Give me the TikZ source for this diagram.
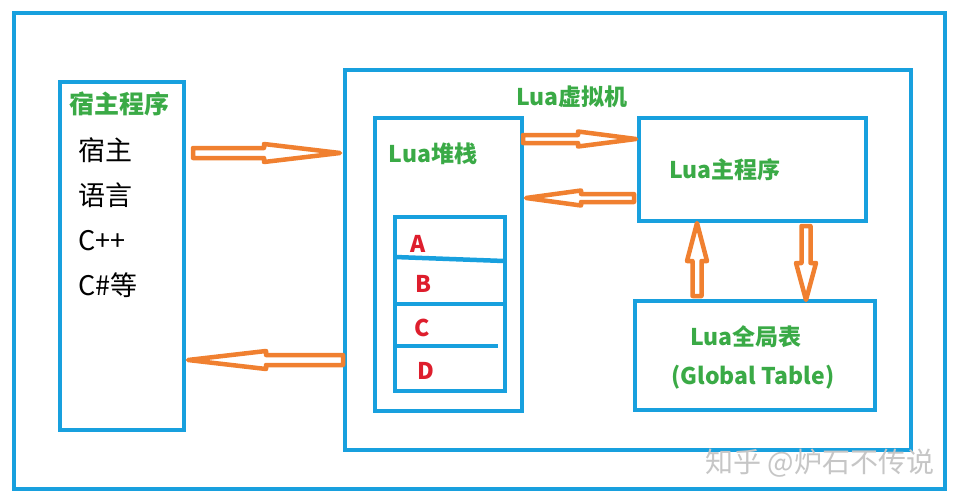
\documentclass[tikz,border=0pt]{standalone}
\usepackage{fontspec}
\usetikzlibrary{calc}
\newfontfamily\cjk{Noto Sans CJK SC}
\definecolor{frameblue}{RGB}{24,160,222}
\definecolor{arroworange}{RGB}{240,128,48}
\definecolor{lblgreen}{RGB}{58,170,70}
\definecolor{lblred}{RGB}{222,30,45}
% hollow block arrow: start, tip, head length, shaft half width, head half width
\newcommand{\hollowarrow}[5]{%
  \coordinate (hb) at ($(#2)!#3!(#1)$);
  \draw[blockarrow] ($(#1)!#4!90:(#2)$) -- ($(hb)!#4!90:(#2)$) -- ($(hb)!#5!90:(#2)$) -- (#2)
    -- ($(hb)!#5!-90:(#2)$) -- ($(hb)!#4!-90:(#2)$) -- ($(#1)!#4!-90:(#2)$) -- cycle;
}
\tikzset{
  box/.style={draw=frameblue, line width=4.5pt, rectangle, inner sep=0pt},
  blockarrow/.style={draw=arroworange, line width=4.5pt, line join=round, fill=white},
  title/.style={text=lblgreen, font=\cjk\bfseries\fontsize{23}{27}\selectfont},
  cell/.style={text=lblred, font=\cjk\bfseries\fontsize{23}{27}\selectfont},
}

\begin{document}
\begin{tikzpicture}[x=1pt, y=-1pt]
  \useasboundingbox (0,0) rectangle (963,503);
  \fill[white] (0,0) rectangle (963,503);

  % frames
  \node[box, minimum width=931pt, minimum height=476pt] (outer) at (479.5,251) {};
  \node[box, minimum width=124pt, minimum height=348pt] (host) at (122,256) {};
  \node[box, minimum width=566pt, minimum height=380pt] (vm) at (628,260) {};
  \node[box, minimum width=147pt, minimum height=293pt] (stack) at (448.5,264.5) {};
  \node[box, minimum width=110pt, minimum height=174pt] (cells) at (450,304) {};
  \node[box, minimum width=227pt, minimum height=103pt] (main) at (752.5,169.5) {};
  \node[box, minimum width=240pt, minimum height=109pt] (global) at (755,355.5) {};

  % stack slots
  \draw[frameblue, line width=4.5pt] (395,257) -- (504,261);
  \draw[frameblue, line width=4.5pt] (395,304) -- (505,304);
  \draw[frameblue, line width=4.5pt] (395,346) -- (498,346);

  % labels
  \node[title, font=\cjk\bfseries\fontsize{25}{29}\selectfont] (hosttitle) at (119,104) {宿主程序};
  \node[font=\cjk\fontsize{27}{45}\selectfont, align=left, anchor=west] (hostlang) at (75,218)
    {宿主\\语言\\C++\\C\#等};
  \node[title] (vmtitle) at (572,97) {Lua虚拟机};
  \node[title] (stacktitle) at (433,154) {Lua堆栈};
  \node[title] (maintitle) at (725,170) {Lua主程序};
  \node[title] (globaltitle) at (746,337) {Lua全局表};
  \node[title] (globalsub) at (753,377) {(Global Table)};
  \node[cell] (ca) at (418,244) {A};
  \node[cell] (cb) at (423,284) {B};
  \node[cell] (cc) at (422,328) {C};
  \node[cell] (cd) at (426,371) {D};

  % arrows
  \coordinate (hostout) at (193,153);
  \coordinate (vmin) at (340,153);
  \coordinate (vmout) at (343,360);
  \coordinate (hostin) at (188,360);
  \coordinate (stackout) at (523,139);
  \coordinate (mainin) at (636,139);
  \coordinate (mainout) at (634,198);
  \coordinate (stackin) at (526,198);
  \coordinate (globalout) at (697,296);
  \coordinate (mainbot) at (697,223);
  \coordinate (maindown) at (806,226);
  \coordinate (globalin) at (806,300);
  \hollowarrow{hostout}{vmin}{76pt}{5pt}{9pt}
  \hollowarrow{vmout}{hostin}{78pt}{5pt}{9pt}
  \hollowarrow{stackout}{mainin}{58pt}{4pt}{7.5pt}
  \hollowarrow{mainout}{stackin}{55pt}{4pt}{7.5pt}
  \hollowarrow{globalout}{mainbot}{38pt}{4.5pt}{10pt}
  \hollowarrow{maindown}{globalin}{37pt}{4.5pt}{10pt}

  \node[text=gray!45, font=\cjk\fontsize{28}{30}\selectfont] (mark) at (820,463) {知乎 @炉石不传说};
\end{tikzpicture}
\end{document}
